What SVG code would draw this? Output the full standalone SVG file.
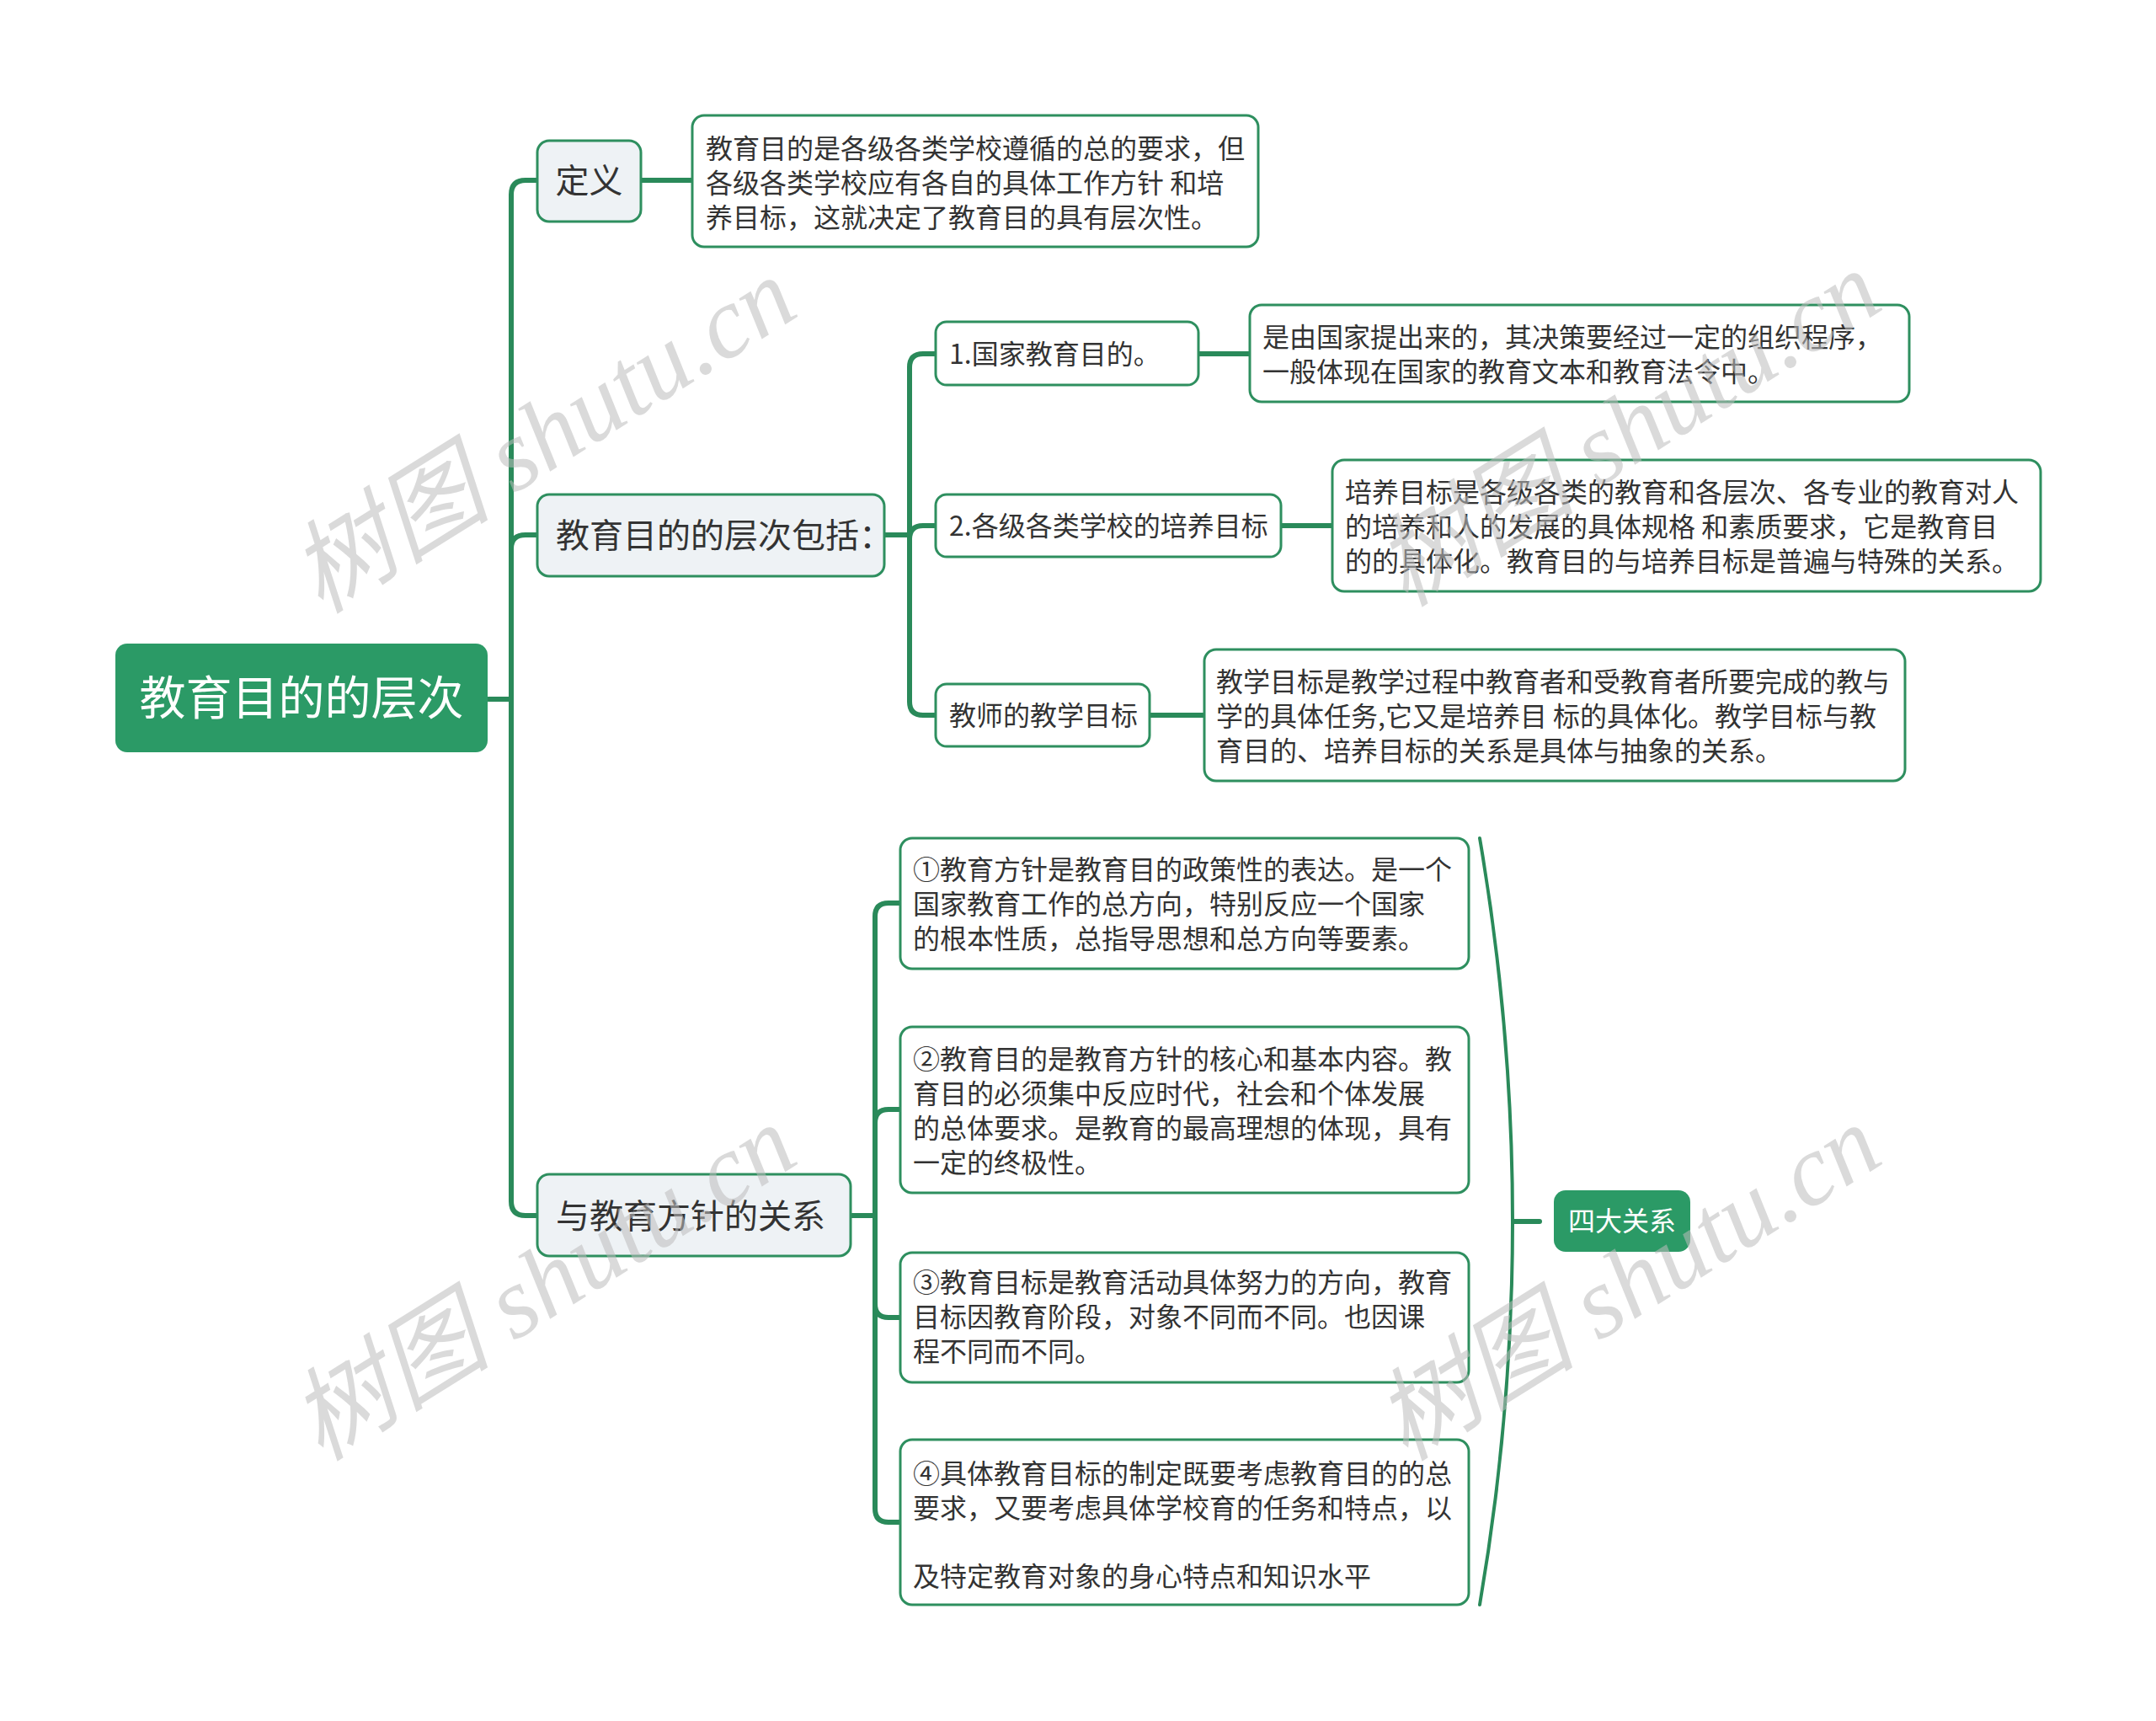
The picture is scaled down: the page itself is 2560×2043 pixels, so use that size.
<svg xmlns="http://www.w3.org/2000/svg" width="2560" height="2043" viewBox="0 0 2560 2043">
<style>
.t{font-family:"Noto Sans CJK SC","Noto Sans",sans-serif;fill:#333;dominant-baseline:central}
.l1{fill:#eef2f5;stroke:#2e8f5f;stroke-width:3}
.bx{fill:#fff;stroke:#2e8f5f;stroke-width:3}
.gr{fill:#2b9a66}
.c{fill:none;stroke:#2a8a5a;stroke-width:6;stroke-linecap:round}
.wm{font-family:"Liberation Serif","Noto Sans CJK SC",serif;font-style:italic;font-size:120px;fill:#bdbdbd;opacity:0.55;text-anchor:middle;dominant-baseline:central}
</style>
<rect width="2560" height="2043" fill="#fff"/>
<g id="connectors">
<path class="c" d="M581,830 H607 V231 Q607,214 624,214 H638"/>
<path class="c" d="M581,830 H607 V651 Q607,635 624,635 H638"/>
<path class="c" d="M581,830 H607 V1426 Q607,1443 624,1443 H638"/>
<path class="c" d="M762,214 H822"/>
<path class="c" d="M1050,635 H1080 V436 Q1080,420 1096,420 H1111"/>
<path class="c" d="M1050,635 H1080 V640 Q1080,624 1096,624 H1111"/>
<path class="c" d="M1050,635 H1080 V833 Q1080,849 1096,849 H1111"/>
<path class="c" d="M1423,420 H1484"/>
<path class="c" d="M1521,624 H1582"/>
<path class="c" d="M1365,849 H1430"/>
<path class="c" d="M1010,1443 H1039 V1088 Q1039,1072 1055,1072 H1069"/>
<path class="c" d="M1010,1443 H1039 V1333 Q1039,1317 1055,1317 H1069"/>
<path class="c" d="M1010,1443 H1039 V1548 Q1039,1564 1055,1564 H1069"/>
<path class="c" d="M1010,1443 H1039 V1791 Q1039,1807 1055,1807 H1069"/>
<path class="c" style="stroke-width:4" d="M1757,995 Q1835,1450 1757,1905"/>
<path class="c" d="M1797,1450 H1828"/>
</g>
<g id="root">
<rect class="gr" x="137" y="764" width="442" height="129" rx="14"/>
<text class="t" x="358" y="824" text-anchor="middle" style="font-size:55px;fill:#fff">教育目的的层次</text>
</g>
<g id="n-dingyi">
<rect class="l1" x="638" y="167" width="123" height="96" rx="14"/>
<text class="t" x="699.5" y="212" text-anchor="middle" style="font-size:40px">定义</text>
</g>
<g id="n-dingyi-text">
<rect class="bx" x="822" y="137" width="672" height="156" rx="14"/>
<text class="t" x="838" style="font-size:32px"><tspan x="838" y="174">教育目的是各级各类学校遵循的总的要求，但</tspan><tspan x="838" y="215">各级各类学校应有各自的具体工作方针 和培</tspan><tspan x="838" y="256">养目标，这就决定了教育目的具有层次性。</tspan></text>
</g>
<g id="n-cengci">
<rect class="l1" x="638" y="587" width="412" height="97" rx="14"/>
<text class="t" x="660" y="633" style="font-size:40px">教育目的的层次包括：</text>
</g>
<g id="n-guojia">
<rect class="bx" x="1111" y="382" width="312" height="75" rx="13"/>
<text class="t" x="1127" y="418" style="font-size:32px">1.国家教育目的。</text>
</g>
<g id="n-guojia-text">
<rect class="bx" x="1484" y="362" width="783" height="115" rx="14"/>
<text class="t" style="font-size:32px"><tspan x="1499" y="398">是由国家提出来的，其决策要经过一定的组织程序，</tspan><tspan x="1499" y="439">一般体现在国家的教育文本和教育法令中。</tspan></text>
</g>
<g id="n-peiyang">
<rect class="bx" x="1111" y="587" width="410" height="74" rx="13"/>
<text class="t" x="1127" y="622" style="font-size:32px">2.各级各类学校的培养目标</text>
</g>
<g id="n-peiyang-text">
<rect class="bx" x="1582" y="546" width="841" height="156" rx="14"/>
<text class="t" style="font-size:32px"><tspan x="1597" y="582">培养目标是各级各类的教育和各层次、各专业的教育对人</tspan><tspan x="1597" y="623">的培养和人的发展的具体规格 和素质要求，它是教育目</tspan><tspan x="1597" y="664">的的具体化。教育目的与培养目标是普遍与特殊的关系。</tspan></text>
</g>
<g id="n-jiaoxue">
<rect class="bx" x="1111" y="812" width="254" height="74" rx="13"/>
<text class="t" x="1127" y="847" style="font-size:32px">教师的教学目标</text>
</g>
<g id="n-jiaoxue-text">
<rect class="bx" x="1430" y="771" width="832" height="156" rx="14"/>
<text class="t" style="font-size:32px"><tspan x="1444" y="807">教学目标是教学过程中教育者和受教育者所要完成的教与</tspan><tspan x="1444" y="848">学的具体任务,它又是培养目 标的具体化。教学目标与教</tspan><tspan x="1444" y="889">育目的、培养目标的关系是具体与抽象的关系。</tspan></text>
</g>
<g id="n-fangzhen">
<rect class="l1" x="638" y="1394" width="372" height="97" rx="14"/>
<text class="t" x="660" y="1441" style="font-size:40px">与教育方针的关系</text>
</g>
<g id="n-r1">
<rect class="bx" x="1069" y="995" width="675" height="155" rx="14"/>
<text class="t" style="font-size:32px"><tspan x="1084" y="1030">①教育方针是教育目的政策性的表达。是一个</tspan><tspan x="1084" y="1071">国家教育工作的总方向，特别反应一个国家</tspan><tspan x="1084" y="1112">的根本性质，总指导思想和总方向等要素。</tspan></text>
</g>
<g id="n-r2">
<rect class="bx" x="1069" y="1219" width="675" height="197" rx="14"/>
<text class="t" style="font-size:32px"><tspan x="1084" y="1255">②教育目的是教育方针的核心和基本内容。教</tspan><tspan x="1084" y="1296">育目的必须集中反应时代，社会和个体发展</tspan><tspan x="1084" y="1337">的总体要求。是教育的最高理想的体现，具有</tspan><tspan x="1084" y="1378">一定的终极性。</tspan></text>
</g>
<g id="n-r3">
<rect class="bx" x="1069" y="1487" width="675" height="154" rx="14"/>
<text class="t" style="font-size:32px"><tspan x="1084" y="1520">③教育目标是教育活动具体努力的方向，教育</tspan><tspan x="1084" y="1561">目标因教育阶段，对象不同而不同。也因课</tspan><tspan x="1084" y="1602">程不同而不同。</tspan></text>
</g>
<g id="n-r4">
<rect class="bx" x="1069" y="1709" width="675" height="196" rx="14"/>
<text class="t" style="font-size:32px"><tspan x="1084" y="1747">④具体教育目标的制定既要考虑教育目的的总</tspan><tspan x="1084" y="1788">要求，又要考虑具体学校育的任务和特点，以</tspan><tspan x="1084" y="1869">及特定教育对象的身心特点和知识水平</tspan></text>
</g>
<g id="n-sida">
<rect class="gr" x="1845" y="1413" width="162" height="73" rx="14"/>
<text class="t" x="1926" y="1447" text-anchor="middle" style="font-size:32px;fill:#fff">四大关系</text>
</g>
<g id="watermarks">
<text class="wm" transform="translate(645,517) rotate(-32)">树图 shutu.cn</text>
<text class="wm" transform="translate(1933,509) rotate(-32)">树图 shutu.cn</text>
<text class="wm" transform="translate(645,1523) rotate(-32)">树图 shutu.cn</text>
<text class="wm" transform="translate(1933,1523) rotate(-32)">树图 shutu.cn</text>
</g>
</svg>
